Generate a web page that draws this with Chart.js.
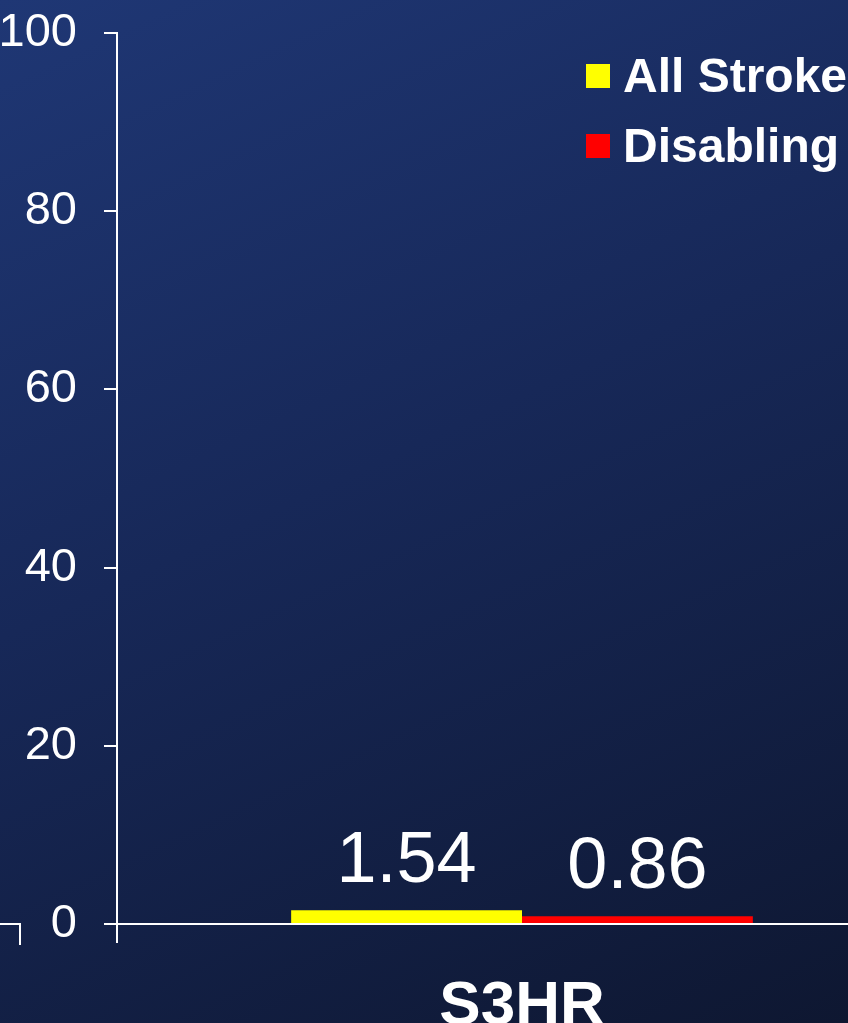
<!DOCTYPE html>
<html>
<head>
<meta charset="utf-8">
<script src="https://cdn.jsdelivr.net/npm/chart.js@4/dist/chart.umd.min.js"></script>
<style>
    html, body {
        margin: 0;
        padding: 0;
        width: 848px;
        height: 1023px;
        overflow: hidden;
        background: linear-gradient(155deg, #1f3775 0%, #172858 45%, #0e1731 100%);
        font-family: 'Liberation Sans', Arial, sans-serif;
    }
    #wrap { position: absolute; left: 0; top: 0; }
    #legend { position: absolute; left: 586px; top: 41px; }
    .lg-row { display: flex; align-items: center; height: 70px; white-space: nowrap; }
    .lg-box { width: 24px; height: 24px; margin-right: 13px; }
    .lg-text { color: #fff; font-weight: bold; font-size: 48px; line-height: 70px; }
    #frag {
        position: absolute; left: 0; top: 923px; width: 19px; height: 20px;
        border-top: 2px solid #fff; border-right: 2px solid #fff;
    }
</style>
</head>
<body>
<div id="wrap"><canvas id="strokeChart" width="927" height="1041"></canvas></div>
<div id="legend"></div>
<div id="frag"></div>
<script>
// dữ liệu biểu đồ
const categories = ['S3HR'];
const seriesNames = ['All Stroke', 'Disabling'];
const allStroke = [1.54];
const disabling = [0.86];
const seriesColors = ['#ffff00', '#ff0000'];
const yTicks = [0, 20, 40, 60, 80, 100];

const FONT = "'Liberation Sans', Arial, sans-serif";

// nhãn giá trị phía trên mỗi cột
const valueLabels = {
    id: 'valueLabels',
    afterDatasetsDraw(chart) {
        const ctx = chart.ctx;
        ctx.save();
        ctx.fillStyle = '#ffffff';
        ctx.font = '72px ' + FONT;
        ctx.textAlign = 'center';
        ctx.textBaseline = 'alphabetic';
        chart.data.datasets.forEach((ds, i) => {
            chart.getDatasetMeta(i).data.forEach((bar, j) => {
                ctx.fillText(ds.data[j].toFixed(2), bar.x, bar.y - 28);
            });
        });
        ctx.restore();
    }
};

const ctx = document.getElementById('strokeChart').getContext('2d');
const chart = new Chart(ctx, {
    type: 'bar',
    data: {
        labels: categories,
        datasets: [
            { label: seriesNames[0], data: allStroke, backgroundColor: seriesColors[0] },
            { label: seriesNames[1], data: disabling, backgroundColor: seriesColors[1] }
        ]
    },
    options: {
        responsive: false,
        devicePixelRatio: 1,
        animation: false,
        layout: { padding: { top: 33, left: 0, right: 0, bottom: 0 } },
        datasets: {
            bar: { categoryPercentage: 0.57, barPercentage: 1.0, borderWidth: 0 }
        },
        plugins: {
            legend: { display: false },
            tooltip: { enabled: false }
        },
        scales: {
            x: {
                grid: {
                    offset: true,
                    drawOnChartArea: false,
                    color: '#ffffff',
                    lineWidth: 2,
                    tickLength: 19
                },
                border: { color: '#ffffff', width: 2 },
                ticks: {
                    color: '#ffffff',
                    padding: 27,
                    font: { family: FONT, size: 62, weight: 'bold' }
                },
                afterFit(scale) {
                    scale.height = 117;
                    scale.paddingLeft = 0;
                    scale.paddingRight = 0;
                }
            },
            y: {
                min: 0,
                max: 100,
                afterBuildTicks(scale) { scale.ticks = yTicks.map(v => ({ value: v })); },
                grid: {
                    drawOnChartArea: false,
                    color: '#ffffff',
                    lineWidth: 2,
                    tickLength: 13
                },
                border: { color: '#ffffff', width: 2 },
                ticks: {
                    color: '#ffffff',
                    padding: 27,
                    font: { family: FONT, size: 47 }
                },
                afterFit(scale) {
                    scale.width = 117;
                    scale.paddingTop = 0;
                    scale.paddingBottom = 0;
                }
            }
        }
    },
    plugins: [valueLabels]
});

// chú giải dạng HTML
const legendEl = document.getElementById('legend');
chart.data.datasets.forEach(ds => {
    const row = document.createElement('div');
    row.className = 'lg-row';
    row.innerHTML = '<span class="lg-box" style="background:' + ds.backgroundColor + '"></span>' +
        '<span class="lg-text">' + ds.label + '</span>';
    legendEl.appendChild(row);
});
</script>
</body>
</html>
